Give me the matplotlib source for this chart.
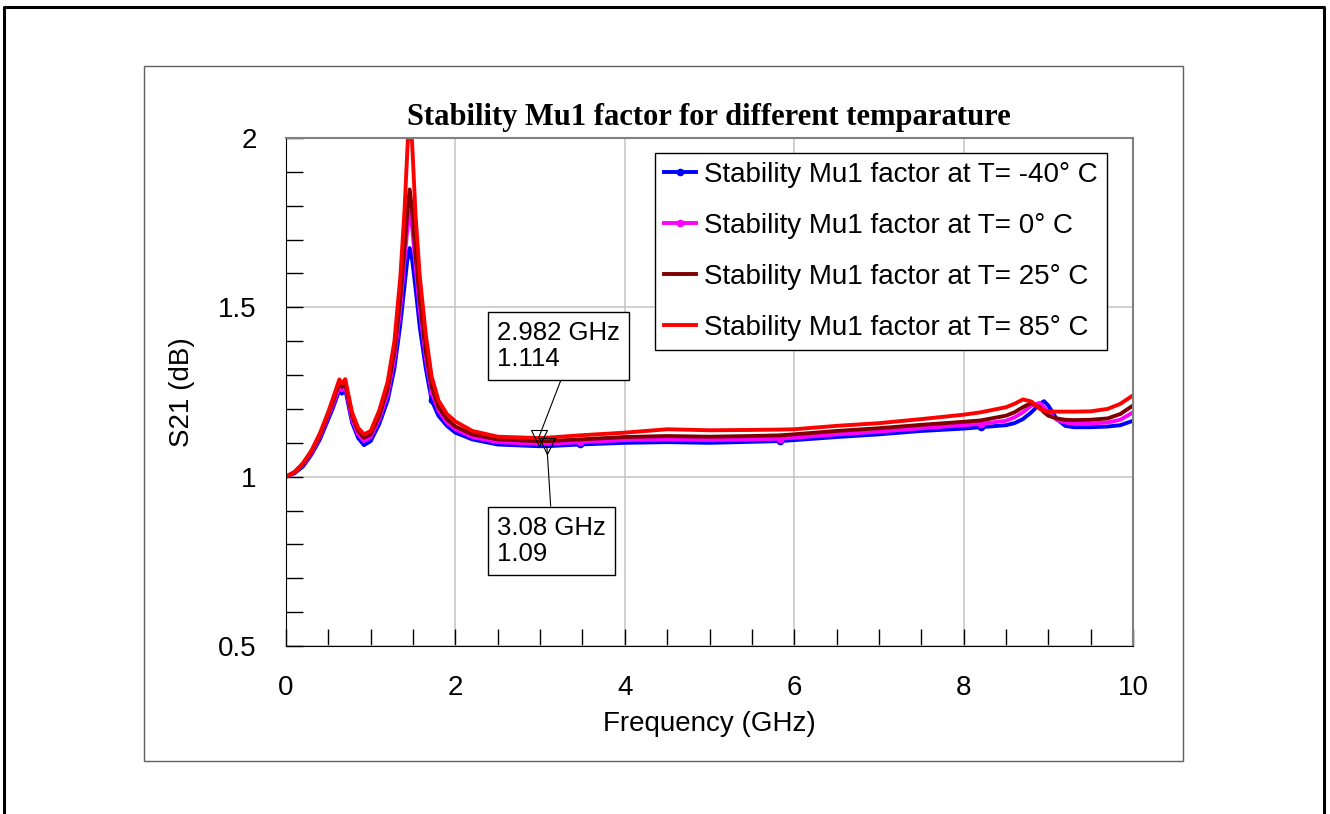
import matplotlib
matplotlib.use("Agg")
import matplotlib.pyplot as plt
from matplotlib.lines import Line2D
from matplotlib.patches import Rectangle

# frequency points (GHz)
freq = [0.0, 0.1, 0.2, 0.3, 0.4, 0.5, 0.55, 0.6, 0.63, 0.66, 0.7, 0.73, 0.78, 0.85, 0.92,
        1.0, 1.1, 1.2, 1.28, 1.35, 1.4, 1.43, 1.46, 1.49, 1.53, 1.58, 1.65, 1.72, 1.8, 1.9,
        2.0, 2.2, 2.5, 2.982, 3.08, 3.47, 4.0, 4.5, 5.0, 5.5, 5.83, 6.0, 6.5, 7.0, 7.5,
        8.0, 8.2, 8.5, 8.6, 8.7, 8.8, 8.9, 8.95, 9.0, 9.1, 9.2, 9.3, 9.5, 9.7, 9.85, 10.0]

mu_m40 = [1.0, 1.01, 1.03, 1.065, 1.11, 1.17, 1.2, 1.235, 1.255, 1.245, 1.258, 1.22, 1.16, 1.115, 1.093,
          1.105, 1.155, 1.225, 1.32, 1.45, 1.565, 1.635, 1.675, 1.64, 1.555, 1.44, 1.32, 1.225, 1.18, 1.15,
          1.13, 1.11, 1.095, 1.09, 1.09, 1.095, 1.1, 1.102, 1.1, 1.103, 1.105, 1.108, 1.117, 1.125, 1.135,
          1.142, 1.146, 1.152, 1.158, 1.17, 1.19, 1.215, 1.223, 1.21, 1.17, 1.15, 1.146, 1.146, 1.148, 1.152, 1.165]

mu_0 = [1.0, 1.012, 1.035, 1.07, 1.118, 1.18, 1.21, 1.245, 1.265, 1.255, 1.265, 1.23, 1.17, 1.125, 1.105,
        1.117, 1.17, 1.245, 1.35, 1.5, 1.64, 1.725, 1.785, 1.735, 1.62, 1.49, 1.35, 1.25, 1.195, 1.16,
        1.14, 1.117, 1.102, 1.097, 1.097, 1.102, 1.108, 1.11, 1.108, 1.11, 1.112, 1.115, 1.125, 1.133, 1.143,
        1.152, 1.156, 1.165, 1.175, 1.19, 1.21, 1.218, 1.205, 1.19, 1.168, 1.16, 1.157, 1.157, 1.16, 1.168, 1.19]

mu_25 = [1.0, 1.013, 1.037, 1.073, 1.122, 1.185, 1.218, 1.255, 1.275, 1.265, 1.275, 1.24, 1.18, 1.135, 1.115,
         1.125, 1.18, 1.26, 1.37, 1.53, 1.68, 1.775, 1.848, 1.785, 1.66, 1.52, 1.37, 1.265, 1.205, 1.17,
         1.148, 1.125, 1.11, 1.105, 1.105, 1.11, 1.117, 1.12, 1.118, 1.12, 1.122, 1.125, 1.135, 1.143, 1.153,
         1.162, 1.166, 1.18, 1.19, 1.205, 1.218, 1.205, 1.19, 1.18, 1.172, 1.168, 1.167, 1.168, 1.172, 1.185, 1.21]

mu_85 = [1.0, 1.014, 1.04, 1.077, 1.128, 1.192, 1.228, 1.265, 1.287, 1.275, 1.288, 1.25, 1.19, 1.145, 1.125,
         1.135, 1.195, 1.28, 1.4, 1.59, 1.79, 1.95, 2.1, 1.98, 1.77, 1.59, 1.42, 1.295, 1.225, 1.185,
         1.163, 1.135, 1.118, 1.114, 1.115, 1.122, 1.13, 1.14, 1.137, 1.138, 1.139, 1.14, 1.15, 1.158, 1.17,
         1.183, 1.19, 1.205, 1.215, 1.228, 1.222, 1.2, 1.195, 1.193, 1.192, 1.192, 1.192, 1.193, 1.2, 1.215, 1.24]

labels = ["Stability Mu1 factor at T= -40\u00b0 C", "Stability Mu1 factor at T= 0\u00b0 C",
          "Stability Mu1 factor at T= 25\u00b0 C", "Stability Mu1 factor at T= 85\u00b0 C"]
colors = ["#0000ff", "#ff00ff", "#800000", "#ff0000"]

marker_freqs = [1.72, 3.47, 5.83, 8.2]
marker_idx = [freq.index(f) for f in marker_freqs]

# marker readouts
m1 = (2.982, 1.114)
m2 = (3.08, 1.09)

plt.rcParams["font.family"] = ["Liberation Sans", "DejaVu Sans"]

W, H = 1330, 814
fig = plt.figure(figsize=(W / 100, H / 100), dpi=100)

def fx(px):
    return px / W

def fy(py):
    return 1 - py / H

# outer page frame (open at the bottom) and chart frame
fig.add_artist(Line2D([fx(4), fx(4), fx(1324), fx(1324)], [fy(814), fy(7), fy(7), fy(814)],
                      color="black", lw=2.2))
fig.add_artist(Rectangle((fx(144), fy(761)), fx(1183) - fx(144), fy(66) - fy(761),
                         fill=False, ec="#606060", lw=1))

ax = fig.add_axes([fx(286), fy(646), fx(1133) - fx(286), fy(138) - fy(646)])

for y, c, lab, mk in zip([mu_m40, mu_0, mu_25, mu_85], colors, labels, [True, True, False, False]):
    if mk:
        ax.plot(freq, y, color=c, lw=2.8, label=lab, marker="o", markersize=4.5,
                markevery=marker_idx)
    else:
        ax.plot(freq, y, color=c, lw=2.8, label=lab)

ax.set_xlim(0, 10)
ax.set_ylim(0.5, 2)
ax.set_xticks([0, 2, 4, 6, 8, 10])
ax.set_yticks([0.5, 1, 1.5, 2])
ax.set_yticklabels(["0.5", "1", "1.5", "2"])
ax.set_xticks([x / 2 for x in range(21)], minor=True)
ax.set_yticks([0.5 + i / 10 for i in range(16)], minor=True)
ax.tick_params(which="both", direction="in", length=12, width=1, color="black",
               labelsize=20, pad=21)
ax.grid(True, which="major", color="#c8c8c8", lw=1.2)
ax.set_axisbelow(True)
for side in ["left", "bottom"]:
    ax.spines[side].set_color("black")
for side in ["top", "right"]:
    ax.spines[side].set_color("#808080")
    ax.spines[side].set_linewidth(1.5)

ax.set_xlabel("Frequency (GHz)", fontsize=20)
ax.set_ylabel("S21 (dB)", fontsize=20)
ax.xaxis.set_label_coords(0.5, -0.127)
ax.yaxis.set_label_coords(-0.107, 0.5)

fig.text(fx(709), fy(125), "Stability Mu1 factor for different temparature",
         family=["Liberation Serif", "DejaVu Serif"], weight="bold", fontsize=22,
         ha="center", va="baseline")

leg = ax.legend(loc="upper left", bbox_to_anchor=(0.4357, 0.9705), fontsize=20,
                frameon=True, fancybox=False, edgecolor="black", framealpha=1,
                handlelength=1.15, handletextpad=0.3, labelspacing=0.9,
                borderpad=0.32, borderaxespad=0)
leg.get_frame().set_linewidth(1)

# marker triangles and readout boxes
ax.plot([m1[0], m2[0]], [m1[1], m2[1]], linestyle="none", marker="v", markersize=11,
        markerfacecolor="none", markeredgecolor="black", markeredgewidth=0.8)
box = dict(boxstyle="square,pad=0.35", fc="white", ec="black", lw=1)
ax.annotate(f"{m1[0]} GHz\n{m1[1]}", xy=m1, xytext=(2.49, 1.46), fontsize=18.5,
            ha="left", va="top", bbox=box, linespacing=1.1,
            arrowprops=dict(arrowstyle="-", color="black", lw=0.8, relpos=(0.55, 0),
                            shrinkA=0, shrinkB=0))
ax.annotate(f"{m2[0]} GHz\n{m2[1]}", xy=m2, xytext=(2.49, 0.885), fontsize=18.5,
            ha="left", va="top", bbox=box, linespacing=1.1,
            arrowprops=dict(arrowstyle="-", color="black", lw=0.8, relpos=(0.5, 1),
                            shrinkA=0, shrinkB=0))

fig.savefig("out.png", dpi=100)
